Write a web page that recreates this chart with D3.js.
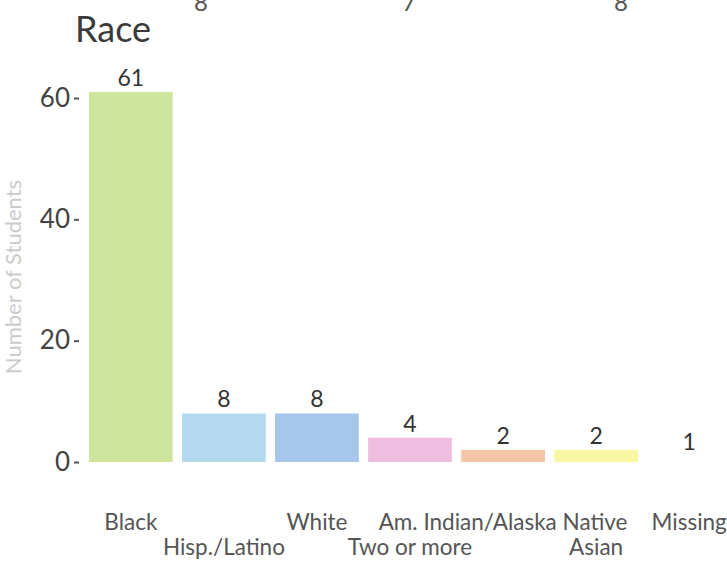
<!DOCTYPE html>
<html><head><meta charset="utf-8">
<script src="https://cdn.jsdelivr.net/npm/d3@7"></script>
<style>body{margin:0;background:#fff}svg{display:block}text{font-family:Lato,"Open Sans",sans-serif}</style>
</head><body><svg id="c" width="727" height="563"></svg>
<script>
const categories = ["Black","Hisp./Latino","White","Two or more","Am. Indian/Alaska Native","Asian","Missing"];
const values = [61,8,8,4,2,2,1];
const colors = ["#cde59c","#b5daf0","#a6c6ec","#efbde0","#f4c5a6","#f7f7a4","#ffffff"];
const yTicks = [0,20,40,60];
const topRemnants = [{x:201,t:"8"},{x:409,t:"7"},{x:621,t:"8"}];

const svg = d3.select("#c");
const x = d3.scaleBand().domain(categories).range([75,745]).paddingInner(0.1).paddingOuter(0.15);
const y = d3.scaleLinear().domain([0,60]).range([462,98]);

// remnants of text from the chart above (cut off by the page edge)
svg.selectAll("text.rem").data(topRemnants).enter().append("text")
  .attr("class","rem").attr("x",d=>d.x).attr("y",11).attr("text-anchor","middle")
  .attr("font-size",24).attr("fill","#555").text(d=>d.t);

svg.append("text").attr("x",75).attr("y",42).attr("font-size",36).attr("fill","#3a3a3a").text("Race");

svg.selectAll("rect.bar").data(categories).enter().append("rect")
  .attr("x",d=>x(d)).attr("width",x.bandwidth())
  .attr("y",(d,i)=>y(values[i])).attr("height",(d,i)=>y(0)-y(values[i]))
  .attr("fill",(d,i)=>colors[i]);

svg.selectAll("text.lab").data(categories).enter().append("text")
  .attr("x",d=>x(d)+x.bandwidth()/2).attr("y",(d,i)=>y(values[i])-6)
  .attr("text-anchor","middle").attr("font-size",23).attr("fill","#333")
  .attr("font-family","Liberation Sans, Arial, sans-serif")
  .text((d,i)=>values[i]);

const yAxis = svg.append("g").attr("transform","translate(79,0)")
  .call(d3.axisLeft(y).tickValues(yTicks).tickSize(5).tickPadding(4));
yAxis.select(".domain").remove();
yAxis.selectAll("line").attr("stroke","#555").attr("stroke-width",2);
yAxis.selectAll("text").attr("font-size",26).attr("fill","#444").attr("font-family","Lato,sans-serif");

svg.append("text").attr("transform","translate(21,277) rotate(-90)")
  .attr("text-anchor","middle").attr("font-size",22).attr("fill","#cbcbcb").text("Number of Students");

const xAxis = svg.append("g").attr("transform","translate(0,462)")
  .call(d3.axisBottom(x).tickSize(0).tickPadding(0));
xAxis.select(".domain").remove();
xAxis.selectAll("text").attr("font-size",22.5).attr("fill","#555").attr("font-family","Lato,sans-serif")
  .attr("dy",null).attr("y",(d,i)=> i%2===0 ? 68 : 93);
</script></body></html>
